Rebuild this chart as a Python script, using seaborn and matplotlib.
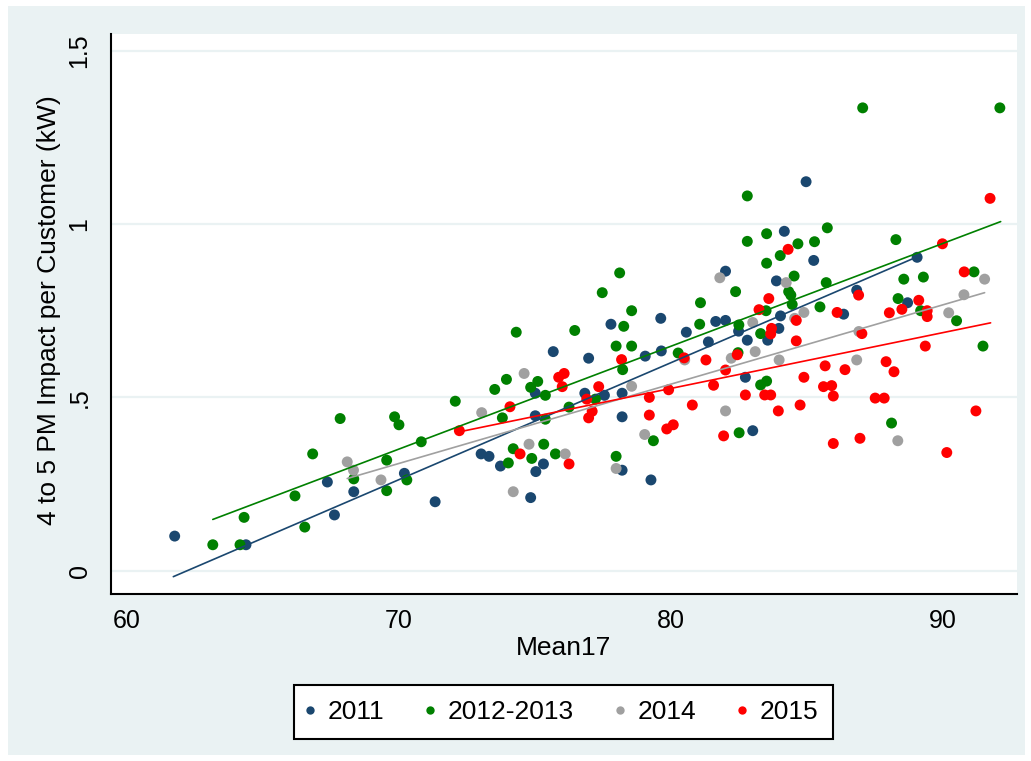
import matplotlib
matplotlib.use("Agg")
import matplotlib.pyplot as plt
from matplotlib.lines import Line2D
from matplotlib.patches import Rectangle
import pandas as pd
import seaborn as sns

# Scatter data: (Mean17, impact kW) per year group
x_2011 = [61.76, 64.38, 67.37, 67.63, 68.34, 70.20, 71.33, 75.67, 76.97, 77.79,
          79.62, 80.56, 79.05, 79.64, 75.01, 76.83, 77.55, 78.20, 75.01, 78.20,
          73.02, 73.31, 73.73, 75.31, 75.03, 78.20, 79.26, 74.84, 84.96, 84.16,
          85.24, 82.00, 83.87, 81.64, 82.00, 81.37, 82.48, 82.80, 83.55, 83.96,
          84.02, 86.34, 86.82, 82.73, 83.00, 89.04, 88.69]
y_2011 = [0.100, 0.075, 0.256, 0.161, 0.228, 0.281, 0.199, 0.632, 0.613, 0.711,
          0.728, 0.688, 0.619, 0.634, 0.512, 0.512, 0.506, 0.512, 0.447, 0.444,
          0.337, 0.330, 0.302, 0.308, 0.286, 0.290, 0.262, 0.211, 1.122, 0.979,
          0.895, 0.864, 0.836, 0.719, 0.722, 0.660, 0.691, 0.665, 0.665, 0.699,
          0.735, 0.740, 0.809, 0.558, 0.404, 0.904, 0.773]

x_2012 = [63.16, 64.16, 64.31, 66.54, 66.18, 66.83, 67.84, 68.34, 69.55, 69.55,
          69.84, 70.00, 70.29, 70.82, 72.07, 74.31, 73.52, 73.95, 75.10, 74.84,
          75.38, 73.80, 75.38, 76.25, 77.22, 77.47, 78.55, 78.26, 77.98, 78.55,
          78.22, 76.46, 74.20, 74.02, 74.88, 75.32, 75.75, 77.98, 79.35, 80.26,
          81.08, 81.05, 78.11, 82.80, 82.80, 83.51, 83.51, 84.01, 84.66, 85.27,
          85.74, 82.37, 82.49, 83.29, 83.49, 84.32, 84.40, 84.45, 84.52, 85.47,
          85.70, 82.46, 83.29, 83.51, 82.50, 88.26, 88.55, 89.27, 91.13, 88.34,
          89.17, 90.49, 91.46, 88.10, 87.04, 92.08]
y_2012 = [0.075, 0.075, 0.154, 0.126, 0.216, 0.337, 0.439, 0.265, 0.319, 0.231,
          0.444, 0.421, 0.262, 0.372, 0.489, 0.688, 0.523, 0.552, 0.546, 0.529,
          0.506, 0.441, 0.437, 0.472, 0.495, 0.802, 0.750, 0.705, 0.648, 0.648,
          0.580, 0.693, 0.352, 0.311, 0.324, 0.365, 0.337, 0.330, 0.375, 0.628,
          0.773, 0.711, 0.859, 1.081, 0.950, 0.972, 0.887, 0.909, 0.943, 0.949,
          0.989, 0.805, 0.709, 0.684, 0.750, 0.805, 0.795, 0.768, 0.850, 0.761,
          0.831, 0.629, 0.536, 0.547, 0.398, 0.955, 0.841, 0.847, 0.862, 0.785,
          0.750, 0.721, 0.648, 0.426, 1.335, 1.335]

x_2014 = [68.10, 68.33, 69.34, 73.04, 74.60, 74.78, 74.20, 76.11, 78.55, 79.03,
          77.98, 81.79, 84.23, 83.00, 84.88, 84.54, 82.21, 83.09, 83.97, 82.00,
          91.52, 90.76, 90.20, 86.82, 88.33, 86.90, 80.50]
y_2014 = [0.314, 0.290, 0.262, 0.456, 0.569, 0.365, 0.228, 0.337, 0.532, 0.393,
          0.295, 0.845, 0.831, 0.716, 0.745, 0.728, 0.613, 0.632, 0.608, 0.461,
          0.841, 0.796, 0.744, 0.608, 0.375, 0.690, 0.608]

x_2015 = [72.22, 74.08, 74.45, 76.25, 75.87, 76.07, 76.00, 76.90, 77.34, 77.10,
          76.97, 78.18, 79.20, 79.20, 79.91, 79.84, 80.08, 80.78, 80.48, 84.30,
          83.59, 83.23, 83.69, 83.66, 84.60, 86.10, 86.89, 87.01, 84.60, 81.28,
          82.43, 82.00, 81.56, 82.73, 83.44, 83.66, 84.88, 85.66, 86.39, 85.60,
          85.90, 85.96, 83.94, 84.74, 81.93, 85.96, 86.94, 91.72, 89.97, 90.77,
          89.10, 88.48, 88.02, 89.41, 89.41, 89.34, 87.90, 88.19, 87.50, 87.83,
          91.20, 90.13]
y_2015 = [0.404, 0.473, 0.337, 0.308, 0.558, 0.569, 0.531, 0.495, 0.531, 0.460,
          0.441, 0.609, 0.500, 0.449, 0.522, 0.409, 0.421, 0.478, 0.614, 0.927,
          0.785, 0.753, 0.699, 0.683, 0.722, 0.745, 0.795, 0.684, 0.663, 0.608,
          0.623, 0.579, 0.535, 0.507, 0.507, 0.507, 0.558, 0.591, 0.580, 0.531,
          0.534, 0.504, 0.461, 0.478, 0.389, 0.367, 0.382, 1.074, 0.943, 0.862,
          0.780, 0.754, 0.744, 0.750, 0.733, 0.648, 0.603, 0.574, 0.498, 0.498,
          0.461, 0.341]

# Linear fit lines (start / end of each line)
fit_x_2011 = [61.71, 89.03]
fit_y_2011 = [-0.017, 0.905]
fit_x_2012 = [63.16, 92.11]
fit_y_2012 = [0.148, 1.007]
fit_x_2014 = [68.10, 91.52]
fit_y_2014 = [0.266, 0.802]
fit_x_2015 = [72.24, 91.74]
fit_y_2015 = [0.401, 0.715]

groups = ["2011", "2012-2013", "2014", "2015"]
colors = ["#1a476f", "#008000", "#a0a0a0", "#ff0000"]
x_ticks = [60, 70, 80, 90]
y_ticks = [0, 0.5, 1, 1.5]
y_tick_labels = ["0", ".5", "1", "1.5"]

xs = [x_2011, x_2012, x_2014, x_2015]
ys = [y_2011, y_2012, y_2014, y_2015]
fxs = [fit_x_2011, fit_x_2012, fit_x_2014, fit_x_2015]
fys = [fit_y_2011, fit_y_2012, fit_y_2014, fit_y_2015]

df = pd.concat([pd.DataFrame({"Mean17": x, "impact": y, "year": g})
                for g, x, y in zip(groups, xs, ys)], ignore_index=True)
df_fit = pd.concat([pd.DataFrame({"Mean17": x, "impact": y, "year": g})
                    for g, x, y in zip(groups, fxs, fys)], ignore_index=True)

sns.set_style("white")
plt.rcParams["font.family"] = ["Liberation Sans", "DejaVu Sans"]
plt.rcParams["text.color"] = "black"
plt.rcParams["axes.labelcolor"] = "black"

bg = "#eaf2f3"
fig = plt.figure(figsize=(10.31, 7.61), dpi=100)
# light outer panel (Stata-like graph region)
fig.patches.append(Rectangle((8 / 1031, 6 / 761), 1017 / 1031, 749 / 761,
                             transform=fig.transFigure, facecolor=bg,
                             edgecolor="none", zorder=-10))
ax = fig.add_axes([111 / 1031, 167 / 761, 906 / 1031, 560 / 761])
ax.set_zorder(1)
ax.set_facecolor("white")

pal = dict(zip(groups, colors))
sns.scatterplot(data=df, x="Mean17", y="impact", hue="year", hue_order=groups,
                palette=pal, s=62, linewidth=0, alpha=1, legend=False, ax=ax,
                zorder=3)
sns.lineplot(data=df_fit, x="Mean17", y="impact", hue="year", hue_order=groups,
             palette=pal, linewidth=1.2, legend=False, ax=ax, zorder=4,
             estimator=None, sort=False)

ax.set_xlim(59.42, 92.71)
ax.set_ylim(-0.067, 1.548)
ax.set_xticks(x_ticks)
ax.set_yticks(y_ticks)
ax.set_yticklabels(y_tick_labels, rotation=90, va="center")
ax.tick_params(axis="both", direction="out", length=8, width=1.3, colors="black",
               labelsize=18)
ax.tick_params(axis="x", pad=3)
ax.tick_params(axis="y", pad=6)
ax.grid(axis="y", color=bg, linewidth=1.6, zorder=0)
ax.set_axisbelow(True)

for side in ["top", "right"]:
    ax.spines[side].set_visible(False)
for side in ["left", "bottom"]:
    ax.spines[side].set_color("black")
    ax.spines[side].set_linewidth(1.5)

ax.set_xlabel("Mean17", fontsize=19)
ax.set_ylabel("4 to 5 PM Impact per Customer (kW)", fontsize=19)
ax.xaxis.set_label_coords(0.5, -0.075)
ax.yaxis.set_label_coords(-0.055, 0.507)

handles = [Line2D([], [], marker="o", linestyle="none", markersize=6,
                  markerfacecolor=c, markeredgewidth=0) for c in colors]
leg = fig.legend(handles, groups, loc="center", ncol=4,
                 bbox_to_anchor=(563.5 / 1031, 1 - 712 / 761), fontsize=19,
                 frameon=True, fancybox=False, framealpha=1, handlelength=0.1,
                 handletextpad=0.63, columnspacing=1.68, borderpad=0.55)
leg.get_frame().set_edgecolor("black")
leg.get_frame().set_linewidth(1.5)
leg.get_frame().set_facecolor("white")

fig.savefig("out.png", dpi=100, facecolor="white")
